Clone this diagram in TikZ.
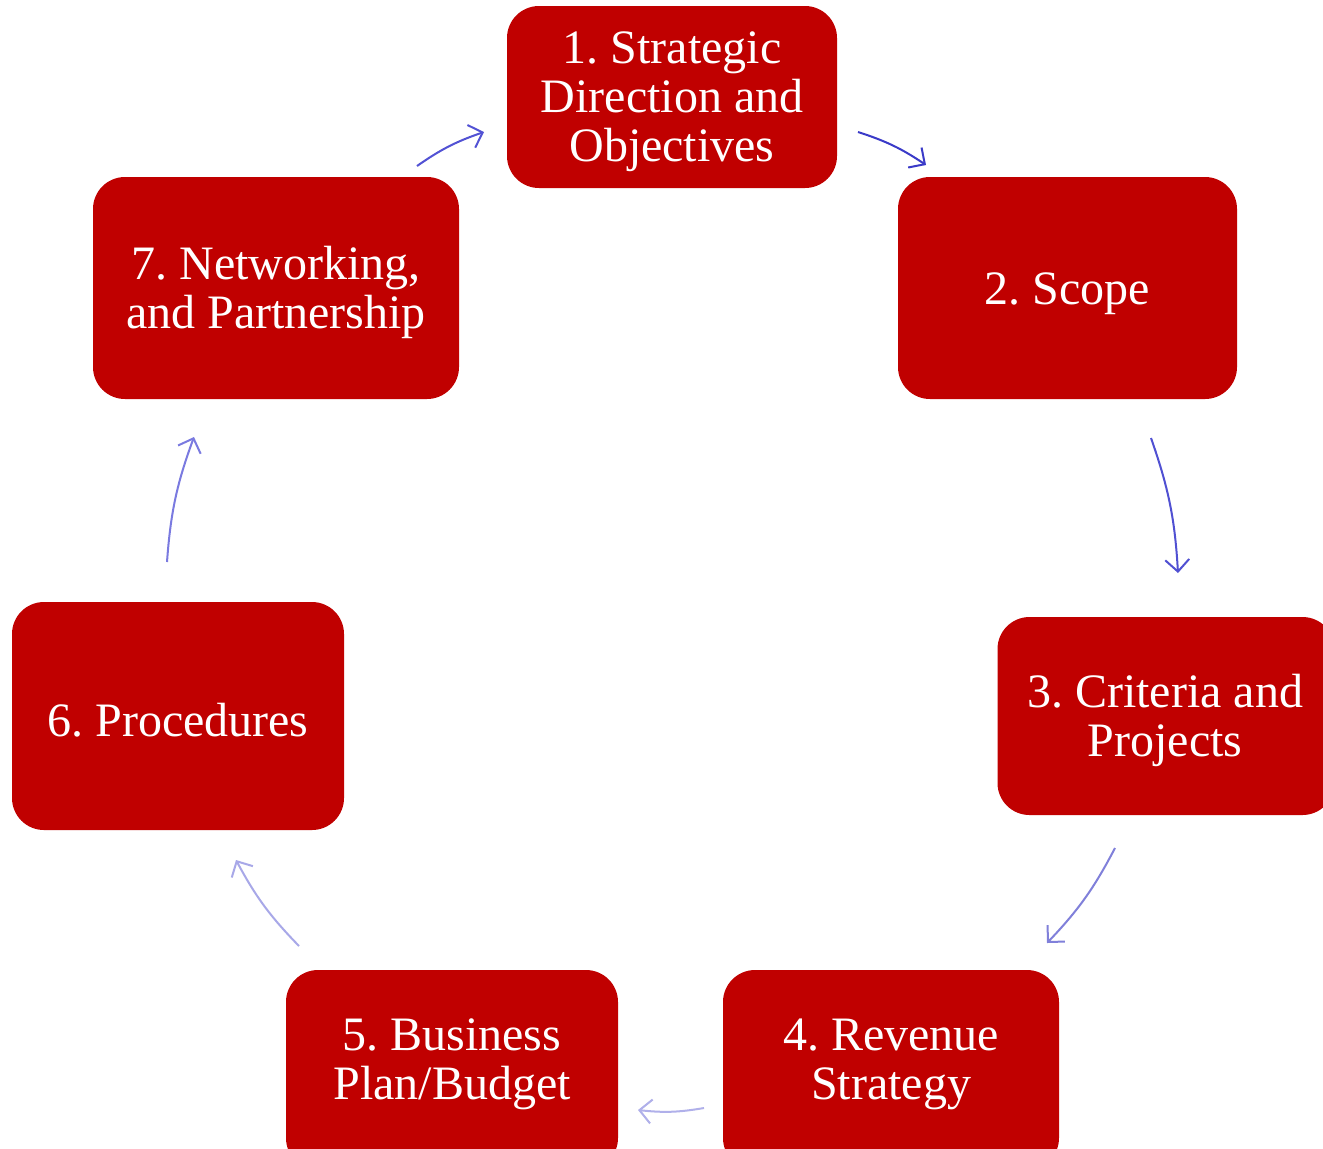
\documentclass[tikz,border=0pt]{standalone}
\usepackage{fontspec}
\setmainfont{Liberation Serif}
\usetikzlibrary{arrows.meta}
\definecolor{boxred}{HTML}{C00000}
\definecolor{a1}{HTML}{3A3AC8}
\definecolor{a2}{HTML}{5050D2}
\definecolor{a3}{HTML}{8080DA}
\definecolor{a4}{HTML}{B0B0EA}
\definecolor{a5}{HTML}{A8A8E8}
\definecolor{a6}{HTML}{7A7AE0}
\definecolor{a7}{HTML}{5252D4}
\frenchspacing
\tikzset{
  stepbox/.style={draw=none, fill=boxred, rounded corners=16pt},
  steptext/.style={text=white, align=center, font=\fontsize{24}{24.5}\selectfont, inner sep=0pt},
  cyc/.style={line width=1pt, -{Straight Barb[length=6pt,width=12pt,line width=1pt]}, bend left=8},
}
\begin{document}
\begin{tikzpicture}[x=0.5pt,y=0.5pt]
\clip (0,0) rectangle (1323,-1148);
\useasboundingbox (0,0) rectangle (1323,-1148);
\fill[white] (0,0) rectangle (1323,-1148);
% boxes
\node[stepbox, minimum width=165pt, minimum height=91pt] (n1) at (672,-97) {};
\node[stepbox, minimum width=169.5pt, minimum height=111pt] (n2) at (1067.5,-288) {};
\node[stepbox, minimum width=168.5pt, minimum height=99pt] (n3) at (1166,-716) {};
\node[stepbox, minimum width=168pt, minimum height=100pt] (n4) at (891,-1070) {};
\node[stepbox, minimum width=166pt, minimum height=100pt] (n5) at (452,-1070) {};
\node[stepbox, minimum width=166pt, minimum height=114pt] (n6) at (178,-716) {};
\node[stepbox, minimum width=183pt, minimum height=111pt] (n7) at (276,-288) {};
% texts
\node[steptext] (t1) at (672,-102) {1. Strategic\\Direction and\\Objectives};
\node[steptext] (t2) at (1067,-294) {2. Scope};
\node[steptext] (t3) at (1165,-720) {3. Criteria and\\Projects};
\node[steptext] (t4) at (891,-1064) {4. Revenue\\Strategy};
\node[steptext] (t5) at (452,-1064) {5. Business\\Plan/Budget};
\node[steptext] (t6) at (178,-720) {6. Procedures};
\node[steptext] (t7) at (276,-292) {7. Networking,\\and Partnership};
% arrow ends
\coordinate (s1) at (858,-132); \coordinate (e1) at (926,-165);
\coordinate (s2) at (1151,-438); \coordinate (e2) at (1178,-573);
\coordinate (s3) at (1115,-848); \coordinate (e3) at (1047,-943);
\coordinate (s4) at (704,-1108); \coordinate (e4) at (638,-1110);
\coordinate (s5) at (299,-946); \coordinate (e5) at (236,-860);
\coordinate (s6) at (167,-562); \coordinate (e6) at (194,-437);
\coordinate (s7) at (417,-166); \coordinate (e7) at (484,-132);
\draw[cyc, a1] (s1) to (e1);
\draw[cyc, a2] (s2) to (e2);
\draw[cyc, a3] (s3) to (e3);
\draw[cyc, a4] (s4) to (e4);
\draw[cyc, a5] (s5) to (e5);
\draw[cyc, a6] (s6) to (e6);
\draw[cyc, a7] (s7) to (e7);
\end{tikzpicture}
\end{document}
